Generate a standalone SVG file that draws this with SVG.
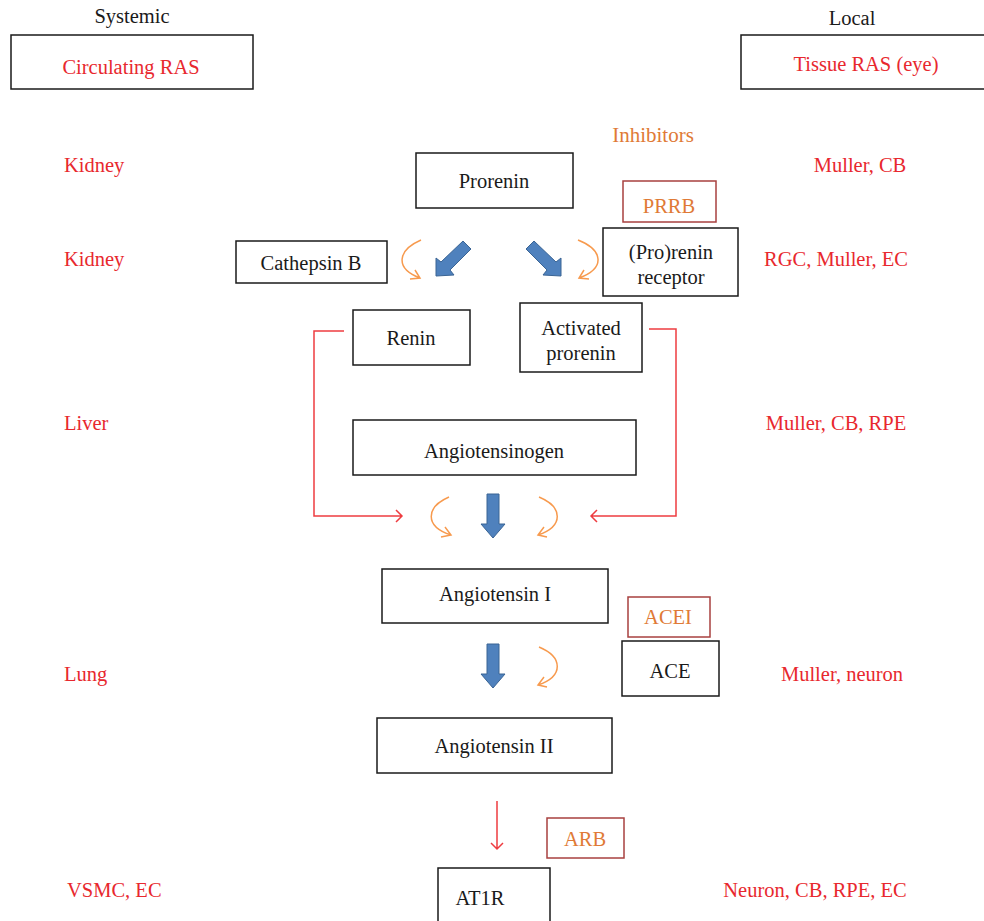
<svg xmlns="http://www.w3.org/2000/svg" width="984" height="921" viewBox="0 0 984 921">
<defs>
<style>
text{font-family:"Liberation Serif","DejaVu Serif",serif;font-size:20.5px;text-anchor:middle;}
.k{fill:#1a1a1a;}
.r{fill:#e8282e;}
.o{fill:#e07a36;}
.st{text-anchor:start;}
.box{fill:#fff;stroke:#1a1a1a;stroke-width:1.5;}
.ibox{fill:#fff;stroke:#a8403f;stroke-width:1.5;}
.blue{fill:#4f81bd;stroke:#3a6494;stroke-width:1;}
.curve{fill:none;stroke:#f79a4e;stroke-width:1.5;}
.red{fill:none;stroke:#ee3c40;stroke-width:1.5;}
</style>
</defs>
<rect width="984" height="921" fill="#fff"/>

<g id="labels">
<text class="k" x="132" y="23">Systemic</text>
<text class="k" x="852" y="25">Local</text>
<text class="o" x="653" y="142" style="font-size:21px">Inhibitors</text>
<text class="r st" x="64" y="172">Kidney</text>
<text class="r" x="860" y="172">Muller, CB</text>
<text class="r st" x="64" y="266">Kidney</text>
<text class="r" x="836" y="266">RGC, Muller, EC</text>
<text class="r st" x="64" y="430">Liver</text>
<text class="r" x="836" y="430">Muller, CB, RPE</text>
<text class="r st" x="64" y="681">Lung</text>
<text class="r" x="842" y="681">Muller, neuron</text>
<text class="r st" x="67" y="897">VSMC, EC</text>
<text class="r" x="815" y="897">Neuron, CB, RPE, EC</text>
</g>

<g id="circulating"><rect class="box" x="11" y="35" width="242" height="54"/><text class="r" x="131" y="74">Circulating RAS</text></g>
<g id="tissue"><rect class="box" x="741" y="35" width="250" height="54"/><text class="r" x="866" y="71">Tissue RAS (eye)</text></g>
<g id="prorenin"><rect class="box" x="416" y="153" width="157" height="55"/><text class="k" x="494" y="188">Prorenin</text></g>
<g id="prrb"><rect class="ibox" x="623" y="181" width="93" height="41"/><text class="o" x="669" y="213">PRRB</text></g>
<g id="cathepsin"><rect class="box" x="236" y="241" width="151" height="42"/><text class="k" x="311" y="270">Cathepsin B</text></g>
<g id="receptor"><rect class="box" x="603" y="228" width="135" height="68"/><text class="k" x="671" y="259">(Pro)renin</text><text class="k" x="671" y="284">receptor</text></g>
<g id="renin"><rect class="box" x="353" y="310" width="117" height="55"/><text class="k" x="411" y="345">Renin</text></g>
<g id="activated"><rect class="box" x="520" y="303" width="122" height="69"/><text class="k" x="581" y="335">Activated</text><text class="k" x="581" y="360">prorenin</text></g>
<g id="angiotensinogen"><rect class="box" x="353" y="420" width="283" height="55"/><text class="k" x="494" y="458">Angiotensinogen</text></g>
<g id="angI"><rect class="box" x="382" y="569" width="226" height="54"/><text class="k" x="495" y="601">Angiotensin I</text></g>
<g id="acei"><rect class="ibox" x="628" y="597" width="82" height="40"/><text class="o" x="668" y="624">ACEI</text></g>
<g id="ace"><rect class="box" x="622" y="641" width="97" height="55"/><text class="k" x="670" y="678">ACE</text></g>
<g id="angII"><rect class="box" x="377" y="718" width="235" height="55"/><text class="k" x="494" y="753">Angiotensin II</text></g>
<g id="arb"><rect class="ibox" x="547" y="818" width="77" height="40"/><text class="o" x="585" y="846">ARB</text></g>
<g id="at1r"><rect class="box" x="438" y="868" width="112" height="60"/><text class="k" x="480" y="905">AT1R</text></g>

<g id="connectors">
<polygon class="blue" points="463,241 471,249 450,270 454,275 436,276 436,258 441,262"/>
<polygon class="blue" points="534,241 526,249 547,270 543,275 561,276 561,258 556,262"/>
<polygon class="blue" points="487,494 499,494 499,524 505,524 493,538 481,524 487,524"/>
<polygon class="blue" points="487,644 499,644 499,674 505,674 493,688 481,674 487,674"/>
<path class="curve" d="M421,240 C398,250 394,268 420,278 M410,279 L420,278 L415,270"/>
<path class="curve" d="M578,240 C603,250 606,268 579,278 M589,279 L579,278 L584,270"/>
<path class="curve" d="M449,497 C426,507 424,526 451,535 M441,537 L451,535 L445,527"/>
<path class="curve" d="M539,497 C563,507 564,526 538,535 M547,537 L538,535 L544,527"/>
<path class="curve" d="M539,647 C563,657 564,676 538,685 M547,687 L538,685 L544,677"/>
<path class="red" d="M344,331 H314 V516 H402 M396,510 L402,516 L396,522"/>
<path class="red" d="M649,329 H676 V516 H591 M597,510 L591,516 L597,522"/>
<path class="red" d="M497,801 V849 M491,843 L497,849 L503,843"/>
</g>
</svg>
